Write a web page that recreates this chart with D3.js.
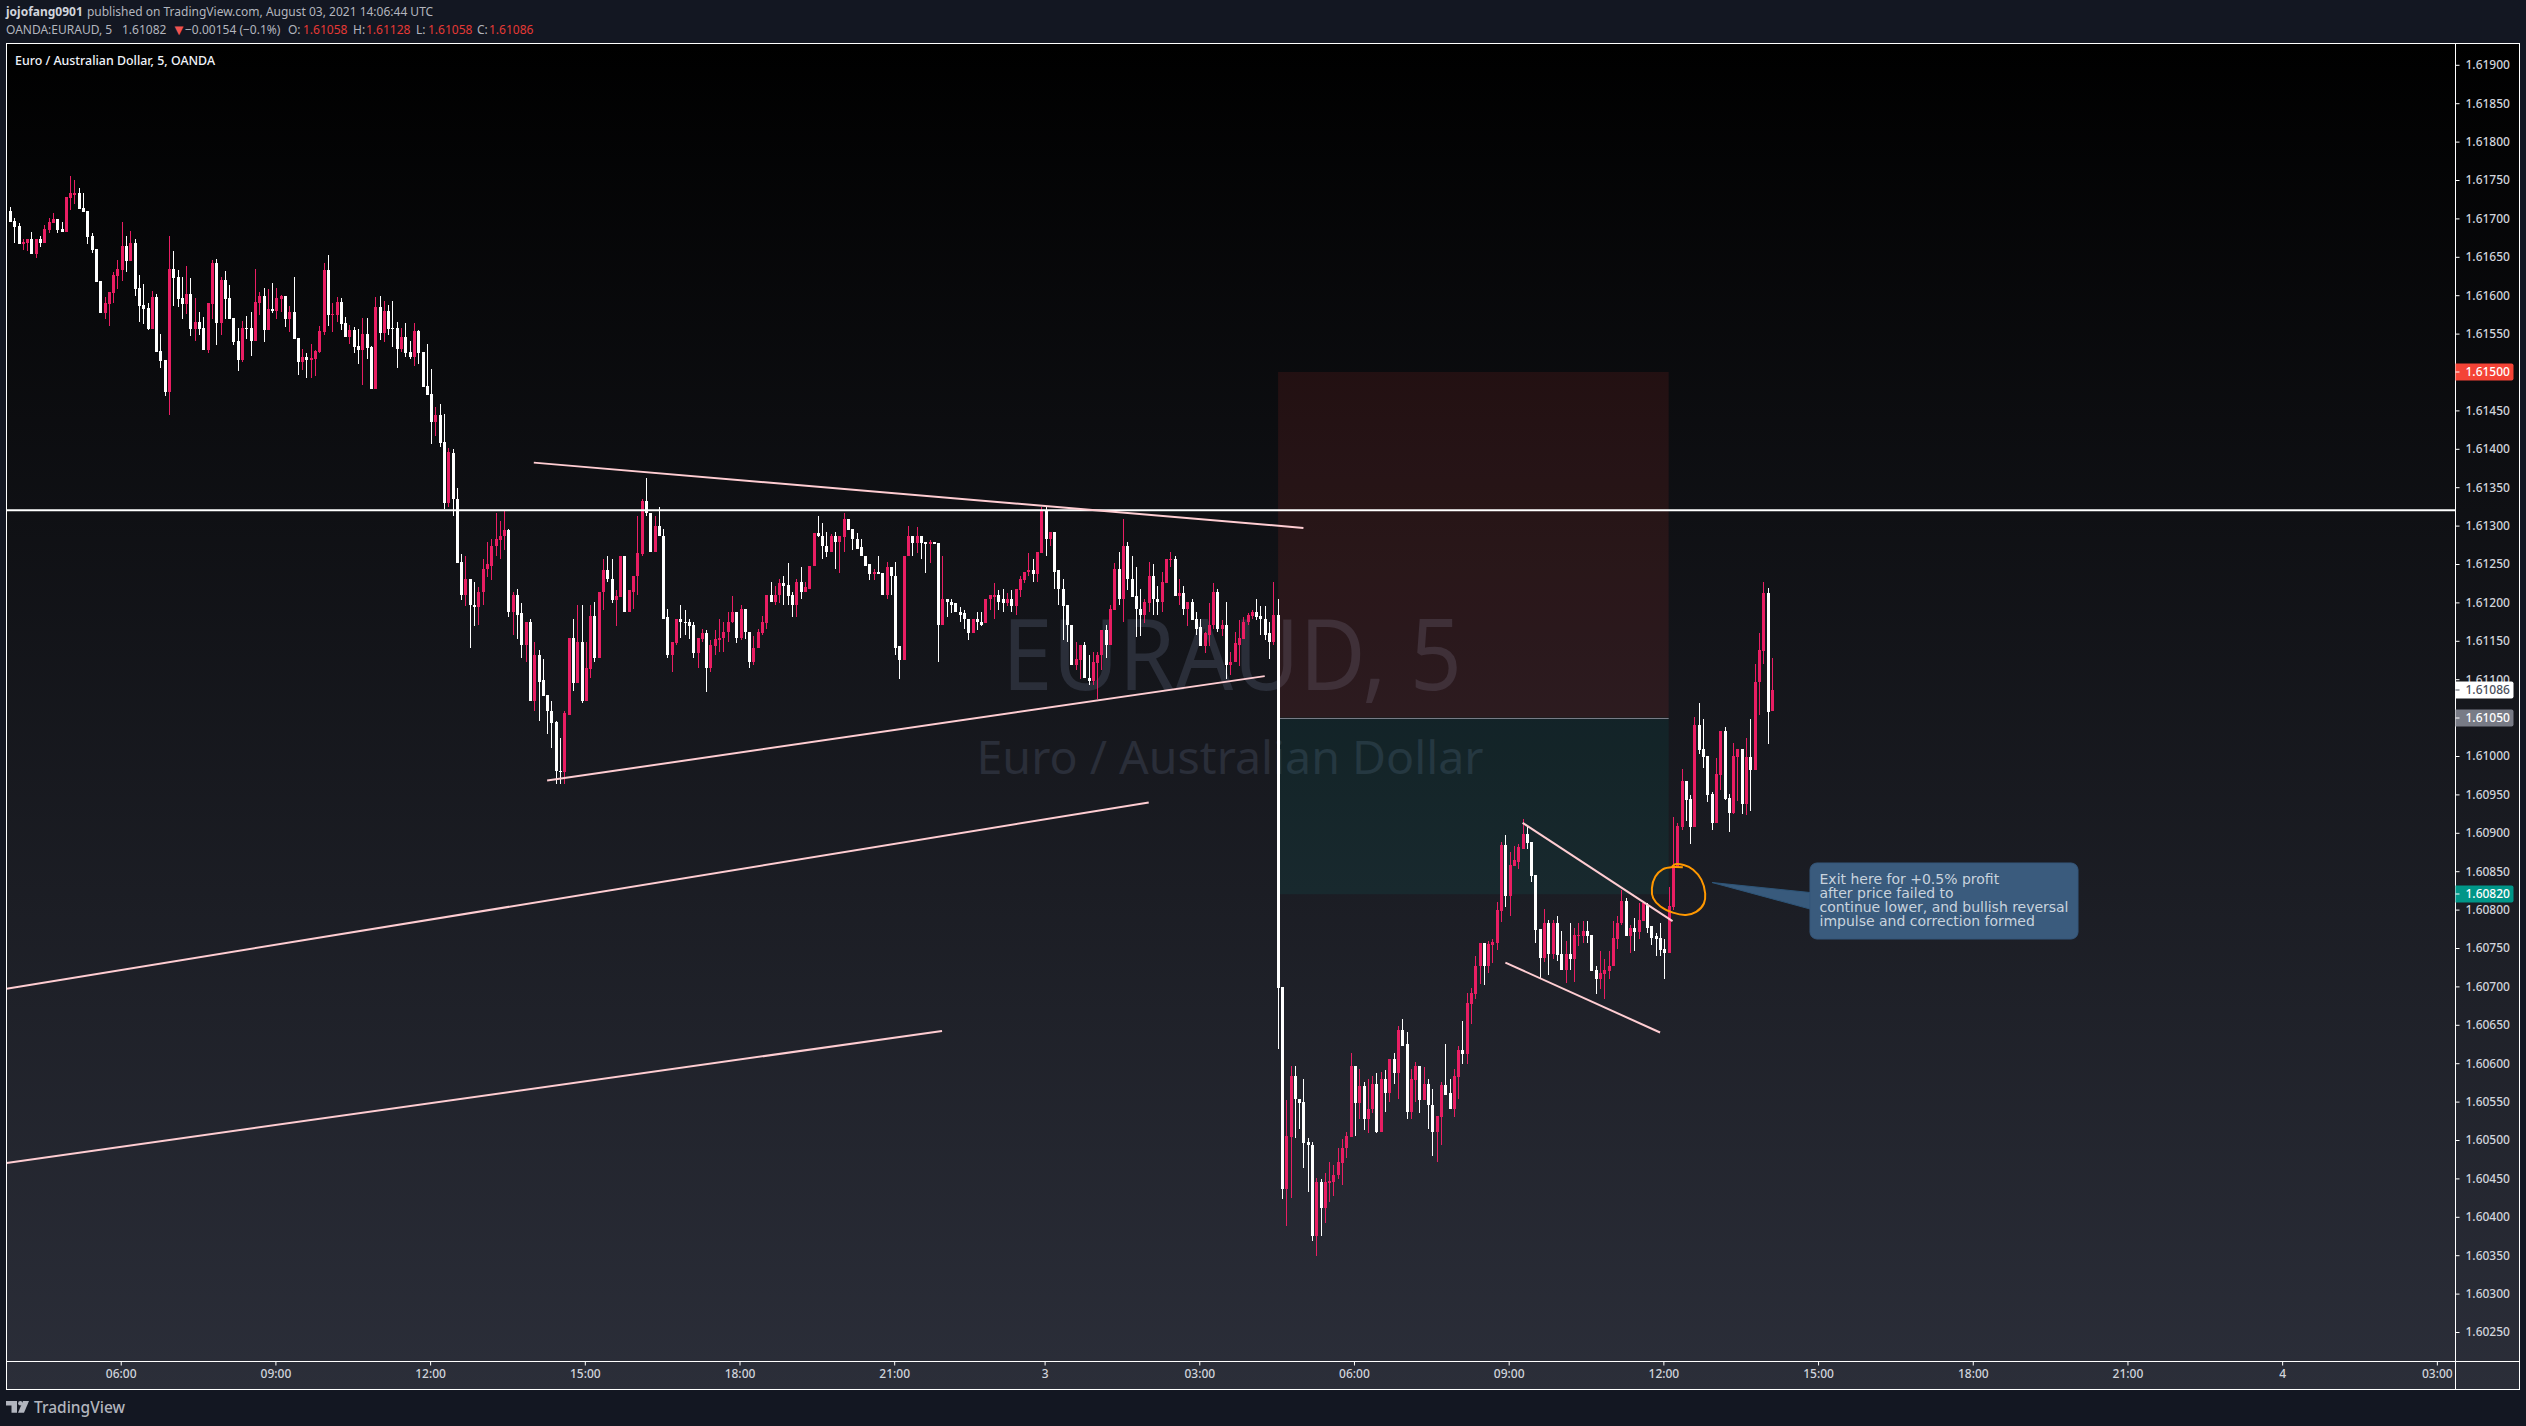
<!DOCTYPE html>
<html><head><meta charset="utf-8">
<style>html,body{margin:0;padding:0;background:#131722;overflow:hidden}svg{display:block}text{font-family:"Noto Sans","Open Sans",sans-serif}</style>
<script src="https://cdn.jsdelivr.net/npm/d3@7/dist/d3.min.js"></script>
</head><body><svg id="c" width="2526" height="1426"></svg>
<script>
// prices are stored in points above 1.60000 (1 point = 0.00001)
const highs=[
1715,1700,1694,1673,1673,1682,1673,1677,1691,1700,
1707,1699,1695,1728,1755,1750,1740,1733,1710,1681,
1660,1618,1598,1604,1630,1646,1695,1677,1684,1673,
1626,1615,1590,1605,1602,1549,1516,1677,1658,1633,
1624,1638,1622,1596,1578,1572,1590,1646,1647,1624,
1632,1613,1570,1557,1567,1573,1578,1634,1604,1610,
1608,1616,1610,1600,1599,1586,1624,1544,1530,1525,
1537,1529,1560,1642,1652,1590,1598,1596,1572,1561,
1559,1556,1570,1570,1534,1598,1599,1593,1587,1593,
1565,1557,1564,1540,1564,1555,1526,1537,1504,1455,
1458,1445,1401,1400,1349,1263,1260,1231,1226,1220,
1257,1279,1282,1317,1306,1319,1296,1214,1218,1199,
1175,1178,1149,1138,1126,1080,1072,1046,1024,1059,
1153,1179,1197,1196,1148,1197,1200,1214,1256,1261,
1256,1216,1260,1260,1216,1235,1313,1335,1362,1317,
1312,1324,1295,1191,1148,1178,1196,1190,1179,1174,
1153,1166,1164,1151,1164,1179,1174,1188,1208,1188,
1196,1192,1162,1156,1166,1182,1209,1226,1222,1231,
1234,1251,1214,1231,1246,1226,1248,1290,1312,1304,
1292,1289,1292,1287,1316,1309,1295,1290,1283,1261,
1250,1244,1260,1238,1253,1246,1253,1143,1261,1300,
1287,1298,1287,1278,1281,1278,1277,1261,1205,1205,
1199,1194,1190,1179,1179,1187,1188,1205,1209,1225,
1216,1218,1212,1216,1217,1234,1240,1264,1257,1265,
1324,1324,1292,1292,1242,1230,1196,1171,1148,1144,
1148,1131,1136,1136,1164,1171,1196,1251,1266,1309,
1278,1261,1246,1218,1205,1252,1250,1222,1239,1256,
1265,1260,1231,1221,1201,1205,1188,1179,1162,1199,
1225,1218,1177,1200,1136,1162,1177,1181,1186,1190,
1204,1195,1195,1174,1226,1204,699,552,596,597,
554,579,502,498,450,449,457,472,468,489,
501,510,613,596,593,576,580,583,587,588,
591,605,613,648,657,640,592,601,596,595,
579,567,531,575,625,579,592,622,655,691,
698,739,757,757,759,762,810,888,897,875,
883,886,918,908,888,845,775,801,787,787,
792,772,759,782,776,783,785,785,767,726,
746,736,746,785,792,825,815,780,789,809,
809,808,778,770,782,762,830,921,913,983,
967,949,1051,1069,1048,1000,953,997,1032,1038,
950,1017,1009,1009,1023,1048,1120,1160,1226,1219,
1128];
const bodyHighs=[
1710,1697,1690,1669,1673,1673,1673,1673,1686,1695,
1699,1699,1686,1728,1733,1733,1733,1714,1710,1677,
1660,1618,1590,1604,1626,1634,1664,1664,1668,1668,
1609,1587,1583,1598,1598,1527,1516,1634,1634,1624,
1596,1602,1602,1565,1565,1557,1590,1642,1642,1620,
1620,1596,1570,1540,1557,1557,1557,1591,1599,1599,
1582,1582,1596,1599,1599,1578,1578,1544,1520,1520,
1518,1527,1554,1633,1633,1576,1591,1591,1564,1555,
1555,1534,1550,1550,1533,1585,1585,1580,1580,1557,
1557,1546,1546,1526,1554,1554,1526,1482,1471,1444,
1444,1409,1396,1395,1335,1252,1231,1231,1197,1214,
1244,1250,1274,1282,1287,1294,1294,1209,1209,1186,
1174,1174,1132,1132,1099,1079,1059,1044,981,1056,
1153,1153,1149,1149,1114,1182,1182,1214,1242,1242,
1231,1208,1260,1260,1216,1235,1264,1332,1332,1317,
1299,1299,1287,1181,1148,1178,1178,1175,1174,1170,
1153,1160,1160,1144,1152,1154,1162,1175,1188,1188,
1192,1192,1162,1141,1161,1174,1209,1209,1209,1225,
1225,1223,1209,1226,1226,1220,1248,1290,1290,1287,
1274,1287,1287,1286,1309,1309,1295,1283,1272,1261,
1250,1239,1239,1238,1246,1246,1235,1143,1261,1286,
1286,1287,1287,1278,1278,1278,1277,1204,1204,1201,
1199,1188,1186,1179,1179,1179,1175,1205,1209,1210,
1210,1204,1205,1205,1217,1230,1240,1242,1242,1265,
1319,1319,1292,1292,1242,1218,1196,1171,1126,1144,
1144,1102,1122,1132,1164,1164,1191,1244,1244,1274,
1274,1231,1208,1192,1200,1235,1235,1205,1226,1256,
1256,1256,1212,1212,1201,1201,1178,1168,1160,1171,
1214,1214,1171,1171,1123,1147,1153,1175,1184,1188,
1188,1182,1179,1160,1184,1184,699,505,583,583,
554,549,497,494,445,445,445,446,455,471,
490,505,596,596,570,570,541,573,573,580,
580,605,605,643,643,625,579,596,596,573,
573,546,531,571,571,561,583,617,617,678,
691,726,757,757,755,758,800,884,884,858,
864,881,899,899,888,845,775,782,782,782,
782,742,742,742,767,767,772,772,767,722,
718,722,727,763,783,811,811,776,776,787,
809,806,778,765,763,749,805,857,909,967,
967,944,1040,1040,1009,1000,950,976,1032,1032,
945,1000,1009,1009,999,999,1097,1138,1212,1212,
1086];
const bodyLows=[
1695,1689,1667,1667,1668,1654,1654,1668,1668,1685,
1694,1685,1682,1682,1727,1731,1712,1708,1676,1659,
1617,1577,1577,1589,1603,1625,1633,1645,1645,1608,
1586,1582,1556,1556,1526,1514,1474,1474,1622,1595,
1589,1589,1556,1556,1556,1529,1529,1589,1564,1564,
1595,1569,1539,1516,1516,1556,1540,1540,1590,1555,
1555,1580,1580,1595,1569,1569,1543,1513,1513,1516,
1516,1517,1526,1552,1574,1574,1574,1563,1546,1546,
1533,1529,1529,1531,1478,1478,1551,1551,1556,1556,
1530,1530,1525,1520,1520,1525,1481,1470,1435,1435,
1408,1330,1330,1334,1251,1210,1210,1196,1194,1194,
1213,1243,1248,1273,1281,1286,1187,1187,1184,1144,
1144,1072,1072,1097,1078,1058,1043,980,979,979,
1054,1095,1095,1072,1072,1113,1127,1127,1213,1230,
1203,1203,1207,1187,1187,1214,1234,1263,1316,1266,
1266,1286,1179,1131,1131,1147,1174,1173,1169,1134,
1134,1152,1114,1114,1143,1151,1153,1161,1174,1154,
1154,1161,1123,1123,1140,1160,1173,1200,1200,1209,
1222,1208,1197,1197,1214,1214,1218,1247,1286,1273,
1266,1266,1278,1278,1285,1294,1282,1270,1260,1248,
1237,1237,1237,1210,1210,1234,1141,1125,1125,1260,
1277,1277,1277,1276,1276,1276,1170,1170,1200,1197,
1187,1184,1178,1160,1160,1174,1171,1173,1204,1207,
1201,1199,1199,1195,1195,1216,1229,1239,1237,1237,
1264,1282,1282,1240,1217,1195,1170,1118,1118,1125,
1101,1098,1098,1121,1131,1144,1144,1190,1204,1204,
1230,1207,1191,1183,1183,1199,1204,1200,1200,1225,
1255,1208,1208,1191,1191,1177,1166,1143,1143,1158,
1170,1165,1165,1119,1119,1122,1145,1152,1174,1182,
1181,1178,1158,1148,1148,698,436,436,504,553,
548,496,493,375,375,411,411,444,445,454,
470,490,504,548,548,527,527,540,510,510,
561,561,587,587,623,537,537,578,552,552,
545,511,511,530,559,541,541,582,612,612,
677,690,726,726,726,754,757,798,818,818,
857,862,879,887,844,774,737,737,742,742,
741,722,722,736,736,766,766,766,720,709,
709,716,720,726,762,782,766,766,771,771,
785,776,763,762,748,744,744,804,855,907,
943,907,907,1008,999,949,913,913,975,944,
926,926,999,937,937,982,982,1096,1137,1057,
1058];
const lows=[
1695,1668,1667,1659,1658,1654,1648,1663,1668,1681,
1694,1681,1682,1682,1711,1719,1712,1708,1667,1655,
1617,1577,1569,1560,1590,1608,1618,1630,1645,1599,
1565,1562,1555,1556,1526,1505,1469,1444,1586,1585,
1569,1575,1547,1540,1548,1529,1525,1569,1535,1548,
1569,1569,1535,1501,1513,1543,1521,1540,1574,1539,
1555,1577,1569,1578,1559,1552,1543,1496,1503,1492,
1492,1495,1525,1548,1560,1552,1565,1555,1546,1537,
1525,1511,1483,1517,1478,1478,1542,1539,1548,1533,
1505,1526,1520,1517,1508,1511,1481,1470,1406,1417,
1402,1322,1324,1312,1251,1203,1195,1140,1169,1170,
1196,1233,1229,1261,1257,1268,1181,1158,1152,1127,
1122,1072,1058,1046,1078,1028,1010,964,964,963,
1054,1084,1095,1069,1072,1101,1122,1127,1190,1227,
1199,1169,1207,1187,1187,1191,1210,1260,1313,1266,
1266,1286,1179,1128,1109,1145,1153,1157,1152,1128,
1115,1148,1083,1109,1132,1135,1135,1149,1173,1147,
1151,1152,1114,1118,1140,1157,1166,1200,1196,1199,
1197,1197,1181,1181,1204,1213,1218,1247,1285,1256,
1259,1266,1243,1238,1266,1294,1268,1269,1260,1248,
1229,1229,1237,1210,1204,1210,1132,1100,1125,1260,
1260,1264,1257,1238,1251,1276,1122,1170,1181,1186,
1187,1174,1165,1151,1160,1164,1169,1173,1190,1179,
1190,1187,1195,1187,1184,1207,1225,1234,1226,1226,
1264,1261,1273,1217,1197,1151,1149,1118,1112,1100,
1101,1092,1092,1074,1112,1128,1144,1190,1196,1174,
1216,1207,1155,1156,1173,1187,1184,1183,1187,1225,
1246,1208,1196,1184,1169,1177,1158,1143,1134,1143,
1165,1162,1156,1100,1106,1122,1117,1152,1170,1178,
1177,1157,1151,1126,1144,619,423,388,424,502,
514,464,432,368,349,375,392,419,427,449,
441,477,504,505,527,513,509,535,509,510,
537,549,573,554,623,527,527,550,535,552,
514,479,471,493,558,540,530,553,599,599,
651,683,703,702,718,730,748,784,804,792,
857,853,879,879,836,756,711,732,715,736,
733,722,705,722,706,753,757,757,720,690,
696,683,709,726,749,780,765,744,746,762,
785,770,754,740,740,710,744,800,855,903,
915,885,907,1002,985,940,903,913,956,943,
901,924,941,924,923,929,982,1053,1120,1015,
1058];
// 1 = rising candle (pink), 0 = falling candle (white)
const rising=("0001101011"+"1001110000"+"0011111010"+"0001000100"+"0101001101"+"0000100110"+"1011010010"+"1111011001"+"0010010100"+"0100100001"+
"0010001001"+"1111110100"+"1010000001"+"1010110110"+"0110111100"+"1000110000"+"1101111110"+"1001111011"+"0001011100"+"0101100000"+
"0100100011"+"0100100100"+"0000100111"+"0010111101"+"1010000011"+"0011101101"+"0000110011"+"1010100011"+"1010111111"+"0000100110"+
"0000101111"+"1110101101"+"0101001101"+"0011001101"+"1110111101"+"1110000101"+"0010111000"+"1111110101"+"1000001111"+"0010000110"+
"0110101110"+"1");
if([highs,bodyHighs,bodyLows,lows].some(a=>a.length!==411)||rising.length!==411) throw new Error("len "+[highs.length,bodyHighs.length,bodyLows.length,lows.length,rising.length]);

const priceTicks=[1.6025,1.603,1.6035,1.604,1.6045,1.605,1.6055,1.606,1.6065,1.607,1.6075,1.608,1.6085,1.609,1.6095,1.61,1.6105,1.611,1.6115,1.612,1.6125,1.613,1.6135,1.614,1.6145,1.615,1.6155,1.616,1.6165,1.617,1.6175,1.618,1.6185,1.619];
const timeBars=[26,62,98,134,170,206,241,277,313,349,385,421,457,493,529,565];
const timeLabels=["06:00","09:00","12:00","15:00","18:00","21:00","3","03:00","06:00","09:00","12:00","15:00","18:00","21:00","4","03:00"];
// drawings: [bar, price points]
const trendLines=[
 [[121.9,1382],[301,1297]],
 [[125,968],[292,1104]],
 [[-0.8,697],[265,939.5]],
 [[-0.8,470],[216.9,642]],
 [[352,913],[386.9,785]],
 [[348,731],[384,640]]
];
const levelPrice=1.6132;
const exitCircle=[[389.3,855],[387,855.5],[384.6,852.5],[382.9,843],[382.1,828],[382.4,815],[384.1,804],[387,796],[390,793],[392.4,797],[394.2,808],[394.5,821],[393.6,839],[391.7,852],[389.5,858],[387.5,859],[386.8,856]];
const positionBars=[295.1,386];
const positionPrices={stop:1.615,entry:1.6105,target:1.6082};
const calloutLines=["Exit here for +0.5% profit","after price failed to","continue lower, and bullish reversal","impulse and correction formed"];
const priceTags=[
 {p:1.61086,t:"1.61086",bg:"#ffffff",fg:"#4a4e5a"},
 {p:1.6105,t:"1.61050",bg:"#787b86",fg:"#ffffff"},
 {p:1.6082,t:"1.60820",bg:"#009688",fg:"#ffffff"},
 {p:1.615,t:"1.61500",bg:"#f44336",fg:"#ffffff"}
];

const W=2526,H=1426,L=6.5,T=43.5,R=2455.5,B=1361.5,OR=2519.5,OB=1389.5;
const pt=v=>1.6+v*1e-5;
const x=d3.scaleLinear().domain([0,410]).range([10,1771.8]);
const y=d3.scaleLinear().domain([1.619,1.6025]).range([64.8,1332]);
const svg=d3.select("#c");
const defs=svg.append("defs");
const g=defs.append("linearGradient").attr("id","bg").attr("x1",0).attr("y1",0).attr("x2",0).attr("y2",1);
g.append("stop").attr("offset",0).attr("stop-color","#000000");
g.append("stop").attr("offset",1).attr("stop-color","#2b2e39");
defs.append("clipPath").attr("id","pane").append("rect").attr("x",L).attr("y",T).attr("width",R-L).attr("height",B-T);

svg.append("rect").attr("width",W).attr("height",H).attr("fill","#131722");
svg.append("rect").attr("x",L).attr("y",T).attr("width",OR-L).attr("height",OB-T).attr("fill","url(#bg)");

// watermark
const wm="#2a2e39";
svg.append("text").attr("x",1232).attr("y",690).attr("text-anchor","middle").attr("fill",wm).attr("font-size",98).attr("textLength",460).attr("lengthAdjust","spacingAndGlyphs").text("EURAUD, 5");
svg.append("text").attr("x",1230).attr("y",774).attr("text-anchor","middle").attr("fill",wm).attr("font-size",46).attr("textLength",507).attr("lengthAdjust","spacingAndGlyphs").text("Euro / Australian Dollar");

// position tool
const px0=x(positionBars[0]),px1=x(positionBars[1]);
svg.append("rect").attr("x",px0).attr("width",px1-px0).attr("y",y(positionPrices.stop)).attr("height",y(positionPrices.entry)-y(positionPrices.stop)).attr("fill","rgba(244,67,54,0.105)");
svg.append("rect").attr("x",px0).attr("width",px1-px0).attr("y",y(positionPrices.entry)).attr("height",y(positionPrices.target)-y(positionPrices.entry)).attr("fill","rgba(0,150,136,0.10)");
svg.append("line").attr("x1",px0).attr("x2",px1).attr("y1",Math.round(y(positionPrices.entry))+.5).attr("y2",Math.round(y(positionPrices.entry))+.5).attr("stroke","#787b86");

// candles
const idx=d3.range(highs.length);
const cG=svg.append("g").attr("clip-path","url(#pane)");
const col=i=>rising[i]==="1"?"#e91e63":"#ffffff";
cG.selectAll("rect.w").data(idx).join("rect").attr("class","w")
 .attr("x",i=>Math.round(x(i))).attr("width",1)
 .attr("y",i=>Math.round(y(pt(highs[i])))).attr("height",i=>Math.max(1,Math.round(y(pt(lows[i])))-Math.round(y(pt(highs[i])))))
 .attr("fill",col);
cG.selectAll("rect.b").data(idx).join("rect").attr("class","b")
 .attr("x",i=>Math.round(x(i))-1).attr("width",3)
 .attr("y",i=>Math.round(y(pt(bodyHighs[i])))).attr("height",i=>Math.max(1,Math.round(y(pt(bodyLows[i])))-Math.round(y(pt(bodyHighs[i])))))
 .attr("fill",col);

// level and trend lines
svg.append("line").attr("x1",L).attr("x2",R).attr("y1",y(levelPrice)).attr("y2",y(levelPrice)).attr("stroke","#ffffff").attr("stroke-width",2);
const lineGen=d3.line().x(d=>x(d[0])).y(d=>y(pt(d[1])));
svg.append("g").attr("clip-path","url(#pane)").selectAll("path").data(trendLines).join("path").attr("d",lineGen).attr("fill","none").attr("stroke","#ffcdd2").attr("stroke-width",2);

// orange freehand circle
svg.append("path").attr("d",d3.line().x(d=>x(d[0])).y(d=>y(pt(d[1]))).curve(d3.curveCatmullRom)(exitCircle)).attr("fill","none").attr("stroke","#ff9800").attr("stroke-width",2);

// callout
const cx=1810,cy=863,cw=268,ch=76,tipX=1712,tipY=882.5;
svg.append("path").attr("d",`M${cx} 892.5L${tipX} ${tipY}L${cx} 909Z`).attr("fill","#385a7c").attr("stroke","#2e5578");
svg.append("rect").attr("x",cx).attr("y",cy).attr("width",cw).attr("height",ch).attr("rx",7).attr("fill","#3a5b7d").attr("stroke","#34567a");
svg.append("g").selectAll("text").data(calloutLines).join("text").attr("x",1819.5).attr("y",(d,i)=>884+i*14).attr("fill","#c9d3de").attr("font-size",14).attr("textLength",d=>d.startsWith("continue")?249:null).style("font-family","'DejaVu Sans'").text(d=>d);

// axes
const ay=d3.axisRight(y).tickValues(priceTicks).tickFormat(d3.format(".5f")).tickSize(4).tickPadding(6);
const yG=svg.append("g").attr("transform",`translate(${R},0)`).call(ay);
yG.select(".domain").remove();
yG.selectAll("line").attr("stroke","#ffffff");
yG.selectAll("text").attr("fill","#d1d4dc").attr("font-size",12).attr("font-weight",500);
const timeScale=d3.scaleOrdinal().domain(timeBars).range(timeLabels);
const ax=d3.axisBottom(x).tickValues(timeBars).tickFormat(d=>timeScale(d)).tickSize(4).tickPadding(4);
const xG=svg.append("g").attr("transform",`translate(-1,${B})`).call(ax);
xG.select(".domain").remove();
xG.selectAll("line").attr("stroke","#ffffff");
xG.selectAll("text").attr("fill","#d1d4dc").attr("font-size",12).attr("font-weight",500);

// frame
const fr=svg.append("g").attr("fill","none").attr("stroke","#ffffff");
fr.append("rect").attr("x",L).attr("y",T).attr("width",OR-L).attr("height",OB-T);
fr.append("line").attr("x1",R).attr("x2",R).attr("y1",T).attr("y2",OB);
fr.append("line").attr("x1",L).attr("x2",OR).attr("y1",B).attr("y2",B);

// price tags
const tg=svg.append("g").selectAll("g").data(priceTags).join("g").attr("transform",d=>`translate(${R},${Math.round(y(d.p))})`);
tg.append("path").attr("d","M0 -8.5H56a2 2 0 0 1 2 2V6.5a2 2 0 0 1 -2 2H0Z").attr("fill",d=>d.bg);
tg.append("text").attr("x",10).attr("dy","0.32em").attr("fill",d=>d.fg).attr("font-size",12).attr("font-weight",500).text(d=>d.t);
tg.append("line").attr("x1",0).attr("x2",4).attr("stroke",d=>d.fg);

// header
const hd=svg.append("g").attr("font-size",12).attr("fill","#b2b5be");
const h1=hd.append("text").attr("x",6).attr("y",16);
h1.append("tspan").attr("font-weight",700).attr("fill","#d1d4dc").text("jojofang0901");
h1.append("tspan").attr("dx",1).text(" published on TradingView.com, August 03, 2021 14:06:44 UTC");
const red="#e53935";
const h2=hd.append("text").attr("y",34);
[[6,"OANDA:EURAUD, 5",0],[122,"1.61082",0],[185,"−0.00154 (−0.1%)",0],[288,"O:",0],[303,"1.61058",1],[353,"H:",0],[366,"1.61128",1],[416,"L:",0],[428,"1.61058",1],[477,"C:",0],[489,"1.61086",1]]
 .forEach(d=>h2.append("tspan").attr("x",d[0]).attr("fill",d[2]?red:"#b2b5be").text(d[1]));
hd.append("text").attr("x",171.5).attr("y",34.5).attr("font-size",15).attr("fill","#ef5350").text("▼");
svg.append("text").attr("x",15).attr("y",64.5).attr("fill","#f0f3fa").attr("font-size",12.4).attr("font-weight",500).text("Euro / Australian Dollar, 5, OANDA");

// logo
const lg=svg.append("g").attr("fill","#b2b5be");
lg.append("path").attr("d","M6 1401H17V1412.7H11.5V1405.5H6Z");
lg.append("circle").attr("cx",20.3).attr("cy",1403.2).attr("r",2.2);
lg.append("path").attr("d","M23 1401H29L24 1412.7H18Z");
svg.append("text").attr("x",34).attr("y",1413).attr("fill","#b2b5be").attr("font-size",15.5).attr("font-weight",500).text("TradingView");
</script></body></html>
